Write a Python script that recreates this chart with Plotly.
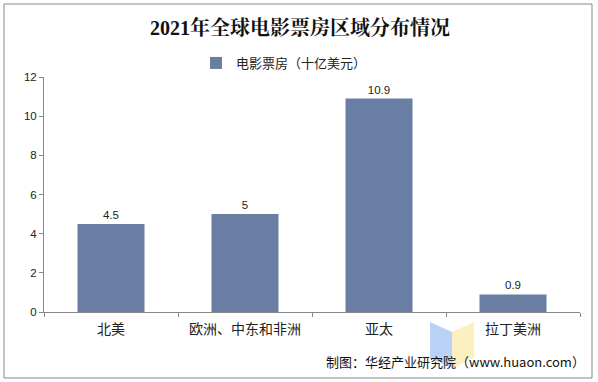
import plotly.graph_objects as go

categories = ["北美", "欧洲、中东和非洲", "亚太", "拉丁美洲"]
values = [4.5, 5, 10.9, 0.9]
value_labels = ["4.5", "5", "10.9", "0.9"]
series_name = "电影票房（十亿美元）"
title_text = "2021年全球电影票房区域分布情况"
source_text = "制图：华经产业研究院（www.huaon.com）"
y_ticks = [0, 2, 4, 6, 8, 10, 12]

W, H = 598, 382
L, R, T, B = 44, 18, 77, 70
pw = W - L - R
ph = H - T - B

def px_x(x):
    return (x - L) / pw

def px_y(y):
    return (H - B - y) / ph

bar_color = "#6A7EA3"
cjk = "Noto Sans CJK SC, Liberation Sans, sans-serif"

fig = go.Figure()
fig.add_trace(go.Bar(
    x=categories, y=values, name=series_name,
    marker=dict(color=bar_color, line=dict(width=0)),
    width=0.5,
    text=value_labels, textposition="outside",
    textfont=dict(family="Liberation Sans, Arial", size=11.5, color="#222"),
    cliponaxis=False,
))

fig.update_layout(
    width=W, height=H,
    margin=dict(l=L, r=R, t=T, b=B, autoexpand=False),
    paper_bgcolor="white", plot_bgcolor="white",
    showlegend=True,
    legend=dict(orientation="h", x=px_x(196), xanchor="left", y=px_y(63), yanchor="middle",
                font=dict(family=cjk, size=13, color="#222"), itemwidth=30,
                bgcolor="rgba(0,0,0,0)"),
    title=dict(text="<b>" + title_text + "</b>", x=300 / W, xanchor="center",
               y=1 - 28 / H, yanchor="middle",
               font=dict(family="Liberation Serif, Noto Serif CJK SC, serif", size=20, color="#111")),
    bargap=0.5,
)

fig.update_yaxes(
    range=[0, 12], tickvals=y_ticks, showgrid=False, zeroline=False,
    showline=True, linecolor="#888", linewidth=1,
    ticks="outside", ticklen=4, tickcolor="#888",
    tickfont=dict(family="Liberation Sans, Arial", size=11.5, color="#222"),
)
fig.update_xaxes(
    showgrid=False, showline=True, linecolor="#888", linewidth=1,
    ticks="outside", ticklen=4, tickcolor="#888", tickson="boundaries",
    ticklabelstandoff=4,
    tickfont=dict(family=cjk, size=14, color="#222"),
)

# outer border
fig.add_shape(type="rect", xref="paper", yref="paper",
              x0=px_x(4), x1=px_x(592), y0=px_y(378), y1=px_y(4),
              line=dict(color="#888", width=1), fillcolor="rgba(0,0,0,0)", layer="below")

# watermark logo (image-like shapes)
fig.add_shape(type="path", xref="paper", yref="paper",
              path=f"M {px_x(430)},{px_y(322)} L {px_x(452)},{px_y(332)} L {px_x(452)},{px_y(368)} L {px_x(430)},{px_y(358)} Z",
              line=dict(width=0), fillcolor="rgba(140,180,240,0.6)", layer="above")
fig.add_shape(type="path", xref="paper", yref="paper",
              path=f"M {px_x(452)},{px_y(332)} L {px_x(474)},{px_y(322)} L {px_x(474)},{px_y(358)} L {px_x(452)},{px_y(368)} Z",
              line=dict(width=0), fillcolor="rgba(250,230,150,0.6)", layer="above")

fig.add_annotation(xref="paper", yref="paper", x=px_x(587), y=px_y(361), text=source_text,
                   showarrow=False, xanchor="right", yanchor="middle",
                   font=dict(family=cjk, size=13, color="#111"))

fig.write_html("out.html", config={"displayModeBar": False},
               post_script="document.body.style.margin='0';document.body.style.overflow='hidden';")
